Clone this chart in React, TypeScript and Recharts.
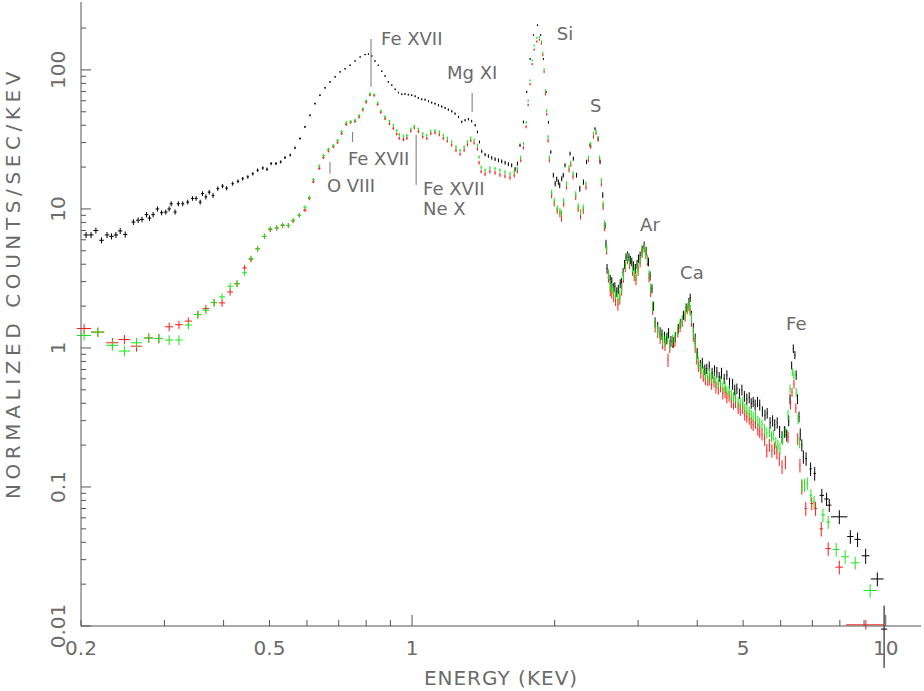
import { ScatterChart, Scatter, XAxis, YAxis, ErrorBar, ReferenceLine, ReferenceDot } from 'recharts';

// [energy keV, normalized counts/s/keV, energy half-width, counts error]
type Row = [number, number, number, number];

const blackSpectrum: Row[] = [
  [0.205, 6.5, 0.0025, 0.33], [0.21, 6.5, 0.0025, 0.33], [0.215, 7.0, 0.0025, 0.35], [0.221, 5.95, 0.0025, 0.3],
  [0.227, 6.5, 0.0025, 0.33], [0.232, 6.35, 0.0025, 0.32], [0.237, 6.5, 0.0025, 0.33], [0.242, 6.95, 0.0025, 0.35],
  [0.248, 6.55, 0.0025, 0.33], [0.258, 8.05, 0.0025, 0.38], [0.264, 8.3, 0.0025, 0.38], [0.269, 8.4, 0.0025, 0.38],
  [0.275, 9.1, 0.0025, 0.4], [0.279, 8.6, 0.0025, 0.4], [0.284, 9.1, 0.0025, 0.4], [0.29, 10.0, 0.0025, 0.42],
  [0.296, 9.4, 0.0025, 0.4], [0.302, 9.5, 0.0025, 0.4], [0.307, 10.0, 0.0025, 0.42], [0.31, 10.9, 0.0025, 0.45],
  [0.316, 9.5, 0.0025, 0.4], [0.321, 10.9, 0.0025, 0.45], [0.328, 10.9, 0.0025, 0.45], [0.336, 11.2, 0.0025, 0.45],
  [0.344, 11.9, 0.0025, 0.45], [0.35, 11.9, 0.0025, 0.45], [0.357, 11.2, 0.0025, 0.45], [0.361, 12.9, 0.0025, 0.5],
  [0.367, 12.2, 0.0025, 0.5], [0.373, 13.2, 0.0025, 0.5], [0.38, 12.5, 0.0025, 0.5], [0.389, 14.0, 0.0025, 0.5],
  [0.398, 14.6, 0.0025, 0.5], [0.406, 14.1, 0.0025, 0.5], [0.418, 15.2, 0.0025, 0.5], [0.429, 15.8, 0.0025, 0.5],
  [0.439, 16.5, 0.0025, 0.5], [0.45, 17.0, 0.0025, 0.5], [0.461, 17.9, 0.0025, 0.5], [0.472, 19.0, 0.0025, 0.55],
  [0.484, 19.7, 0.0025, 0.55], [0.494, 19.3, 0.0025, 0.55], [0.504, 21.2, 0.0025, 0.55], [0.516, 21.2, 0.0025, 0.55],
  [0.528, 21.8, 0.0025, 0.55], [0.539, 23.4, 0.0025, 0.55], [0.553, 24.4, 0.0025, 0.55], [0.566, 27.5, 0.0025, 0.6],
  [0.58, 32.1, 0.0025, 0.6], [0.594, 38.9, 0.0025, 0.7], [0.609, 47.2, 0.0025, 0.8], [0.624, 57.2, 0.0025, 0.9],
  [0.639, 65.8, 0.0025, 1.0], [0.655, 74.3, 0.0025, 1.0], [0.671, 82, 0.0025, 1.1], [0.688, 89.1, 0.0025, 1.2],
  [0.705, 96.8, 0.0025, 1.2], [0.722, 102, 0.0025, 1.3], [0.74, 108, 0.0025, 1.3], [0.758, 116, 0.0025, 1.4],
  [0.777, 124, 0.0025, 1.4], [0.796, 129, 0.0025, 1.5], [0.809, 130, 0.0025, 1.5], [0.822, 126, 0.0025, 1.5],
  [0.835, 116, 0.0025, 1.4], [0.849, 108, 0.0025, 1.3], [0.863, 97.8, 0.0025, 1.2], [0.877, 90.5, 0.0025, 1.2],
  [0.891, 82, 0.0025, 1.1], [0.906, 77.6, 0.0025, 1.0], [0.921, 72.6, 0.0025, 1.0], [0.936, 68.7, 0.0025, 1.0],
  [0.951, 66.8, 0.0025, 1.0], [0.966, 67.2, 0.0025, 1.0], [0.982, 66.4, 0.0025, 1.0], [0.998, 65.8, 0.003, 1.0],
  [1.015, 64.7, 0.003, 1.0], [1.031, 62.9, 0.003, 1.0], [1.048, 61.5, 0.003, 1.0], [1.065, 61.1, 0.003, 1.0],
  [1.083, 59.5, 0.003, 1.0], [1.1, 58.2, 0.003, 1.0], [1.118, 57.2, 0.003, 1.0], [1.137, 55.7, 0.003, 1.0],
  [1.155, 54.5, 0.003, 1.0], [1.174, 53.3, 0.003, 1.0], [1.193, 51.8, 0.003, 1.0], [1.213, 50.4, 0.003, 1.0],
  [1.232, 48.5, 0.003, 1.0], [1.253, 45.9, 0.003, 0.9], [1.273, 42.3, 0.003, 0.9], [1.294, 43.5, 0.003, 0.9],
  [1.315, 44.2, 0.003, 0.9], [1.336, 42.8, 0.003, 0.9], [1.359, 40.0, 0.003, 0.9], [1.374, 35.8, 0.003, 0.8],
  [1.388, 30.3, 0.003, 0.7], [1.403, 26.0, 0.003, 0.7], [1.426, 24.6, 0.003, 0.7], [1.449, 24.0, 0.003, 0.7],
  [1.473, 23.3, 0.003, 0.7], [1.497, 22.8, 0.003, 0.7], [1.522, 22.4, 0.003, 0.7], [1.546, 22.0, 0.003, 0.7],
  [1.572, 21.5, 0.003, 0.7], [1.597, 21.0, 0.003, 0.7], [1.623, 20.6, 0.003, 0.7], [1.65, 19.3, 0.003, 0.7],
  [1.669, 21.2, 0.003, 0.7], [1.69, 28.7, 0.003, 0.8], [1.718, 42.2, 0.003, 1.0], [1.746, 69.5, 0.003, 1.3],
  [1.775, 120, 0.003, 2], [1.804, 178, 0.003, 2.5], [1.839, 210, 0.003, 3], [1.869, 178, 0.003, 2.5],
  [1.893, 120, 0.003, 2], [1.918, 69.5, 0.003, 1.3], [1.94, 42, 0.003, 1.0], [1.963, 25.7, 0.003, 0.8],
  [1.987, 17.5, 0.003, 0.7], [2.005, 15.2, 0.004, 0.7], [2.02, 16.4, 0.004, 0.7], [2.036, 15.6, 0.004, 0.7],
  [2.05, 14.8, 0.004, 0.7], [2.07, 16.5, 0.004, 0.7], [2.085, 17.5, 0.004, 0.7], [2.103, 20.6, 0.004, 0.7],
  [2.155, 25, 0.004, 0.8], [2.19, 23, 0.004, 0.8], [2.225, 17.5, 0.004, 0.7], [2.26, 14, 0.004, 0.7],
  [2.3, 15.6, 0.004, 0.7], [2.336, 21.8, 0.004, 0.8], [2.375, 28.7, 0.004, 0.9], [2.433, 37.7, 0.004, 1.0],
  [2.474, 32, 0.004, 1.0], [2.494, 21.8, 0.004, 0.8], [2.527, 12.6, 0.004, 0.6], [2.555, 7.6, 0.004, 0.4],
  [2.567, 5.6, 0.006, 0.4], [2.58, 3.72, 0.006, 0.3], [2.6, 3.3, 0.006, 0.25], [2.62, 3.1, 0.006, 0.25],
  [2.64, 2.98, 0.006, 0.25], [2.66, 2.7, 0.006, 0.22], [2.68, 2.75, 0.006, 0.22], [2.705, 2.53, 0.006, 0.2],
  [2.725, 2.65, 0.006, 0.2], [2.75, 2.9, 0.006, 0.22], [2.77, 2.98, 0.006, 0.22], [2.79, 3.5, 0.006, 0.25],
  [2.81, 4.0, 0.006, 0.3], [2.83, 4.5, 0.006, 0.3], [2.85, 4.64, 0.006, 0.3], [2.87, 4.5, 0.006, 0.3],
  [2.89, 4.3, 0.006, 0.3], [2.91, 4.16, 0.006, 0.3], [2.935, 3.9, 0.006, 0.3], [2.96, 3.72, 0.006, 0.3],
  [2.985, 4.0, 0.006, 0.3], [3.005, 4.4, 0.006, 0.3], [3.03, 4.64, 0.006, 0.3], [3.06, 5.1, 0.006, 0.35],
  [3.09, 5.48, 0.006, 0.35], [3.12, 5.0, 0.006, 0.35], [3.155, 4.16, 0.006, 0.3], [3.18, 3.3, 0.006, 0.25],
  [3.21, 2.67, 0.006, 0.2], [3.235, 2.0, 0.006, 0.15], [3.26, 1.54, 0.006, 0.12], [3.3, 1.42, 0.008, 0.12],
  [3.34, 1.3, 0.008, 0.11], [3.37, 1.25, 0.008, 0.11], [3.41, 1.2, 0.008, 0.11], [3.45, 1.17, 0.008, 0.11],
  [3.48, 1.28, 0.008, 0.11], [3.52, 1.12, 0.008, 0.1], [3.56, 1.1, 0.008, 0.1], [3.6, 1.2, 0.008, 0.1],
  [3.65, 1.38, 0.008, 0.11], [3.69, 1.5, 0.008, 0.12], [3.74, 1.72, 0.008, 0.13], [3.79, 1.95, 0.008, 0.14],
  [3.84, 2.14, 0.008, 0.15], [3.865, 2.3, 0.008, 0.16], [3.89, 1.72, 0.008, 0.13], [3.925, 1.4, 0.008, 0.11],
  [3.96, 1.17, 0.008, 0.1], [4.0, 0.92, 0.01, 0.08], [4.06, 0.75, 0.01, 0.07], [4.1, 0.78, 0.01, 0.07],
  [4.15, 0.7, 0.01, 0.06], [4.19, 0.71, 0.01, 0.06], [4.24, 0.74, 0.01, 0.06], [4.3, 0.66, 0.01, 0.06],
  [4.35, 0.69, 0.01, 0.06], [4.4, 0.67, 0.01, 0.06], [4.45, 0.62, 0.01, 0.05], [4.5, 0.66, 0.01, 0.06],
  [4.56, 0.6, 0.01, 0.05], [4.62, 0.64, 0.01, 0.05], [4.68, 0.56, 0.01, 0.05], [4.75, 0.55, 0.01, 0.05],
  [4.8, 0.5, 0.01, 0.045], [4.85, 0.51, 0.01, 0.045], [4.91, 0.47, 0.01, 0.04], [4.97, 0.5, 0.01, 0.045],
  [5.03, 0.45, 0.01, 0.04], [5.09, 0.43, 0.01, 0.04], [5.15, 0.44, 0.01, 0.04], [5.2, 0.4, 0.01, 0.035],
  [5.25, 0.41, 0.01, 0.035], [5.3, 0.39, 0.01, 0.035], [5.36, 0.41, 0.01, 0.035], [5.42, 0.39, 0.01, 0.035],
  [5.49, 0.35, 0.012, 0.03], [5.56, 0.33, 0.012, 0.03], [5.62, 0.34, 0.012, 0.03], [5.7, 0.29, 0.012, 0.028],
  [5.77, 0.3, 0.012, 0.028], [5.83, 0.28, 0.012, 0.027], [5.9, 0.29, 0.012, 0.027], [5.97, 0.25, 0.012, 0.025],
  [6.04, 0.229, 0.012, 0.023], [6.11, 0.25, 0.012, 0.024], [6.18, 0.236, 0.012, 0.023], [6.24, 0.3, 0.012, 0.027],
  [6.28, 0.43, 0.012, 0.035], [6.33, 0.75, 0.012, 0.05], [6.38, 0.99, 0.012, 0.07], [6.43, 0.89, 0.012, 0.06],
  [6.47, 0.64, 0.012, 0.05], [6.51, 0.43, 0.012, 0.035], [6.56, 0.32, 0.012, 0.028], [6.6, 0.24, 0.012, 0.024],
  [6.65, 0.2, 0.015, 0.02], [6.7, 0.165, 0.015, 0.018], [6.79, 0.16, 0.03, 0.018], [6.94, 0.135, 0.04, 0.015],
  [7.08, 0.125, 0.04, 0.014], [7.33, 0.087, 0.08, 0.01], [7.5, 0.082, 0.08, 0.009], [7.6, 0.074, 0.08, 0.008],
  [7.98, 0.061, 0.32, 0.007], [8.42, 0.044, 0.13, 0.005], [8.72, 0.042, 0.13, 0.005], [9.07, 0.032, 0.17, 0.004],
  [9.6, 0.0218, 0.3, 0.0025], [9.92, 0.0095, 0.15, 0.0045],
];

const redSpectrum: Row[] = [
  [0.203, 1.38, 0.007, 0.11], [0.217, 1.3, 0.007, 0.1], [0.233, 1.09, 0.007, 0.09], [0.247, 1.15, 0.007, 0.09],
  [0.262, 1.03, 0.007, 0.09], [0.278, 1.18, 0.006, 0.09], [0.292, 1.17, 0.006, 0.09], [0.307, 1.42, 0.006, 0.1],
  [0.322, 1.47, 0.006, 0.1], [0.337, 1.56, 0.006, 0.1], [0.353, 1.74, 0.006, 0.11], [0.367, 1.92, 0.006, 0.12],
  [0.382, 2.12, 0.006, 0.13], [0.397, 2.11, 0.006, 0.13], [0.413, 2.53, 0.006, 0.15], [0.427, 2.9, 0.006, 0.16],
  [0.443, 3.76, 0.005, 0.2], [0.457, 4.35, 0.005, 0.22], [0.472, 5.17, 0.005, 0.25], [0.488, 6.35, 0.005, 0.28],
  [0.502, 7.1, 0.005, 0.3], [0.518, 7.3, 0.005, 0.3], [0.533, 7.6, 0.005, 0.3], [0.548, 7.6, 0.005, 0.3],
  [0.561, 8.2, 0.005, 0.3], [0.578, 9.0, 0.005, 0.3], [0.594, 9.8, 0.005, 0.3], [0.607, 11.9, 0.004, 0.35],
  [0.619, 15.7, 0.004, 0.4], [0.637, 19.6, 0.004, 0.5], [0.65, 23.5, 0.004, 0.6], [0.666, 26.2, 0.004, 0.7],
  [0.682, 28.0, 0.004, 0.7], [0.696, 30.2, 0.004, 0.8], [0.71, 35.0, 0.004, 0.9], [0.726, 40.5, 0.004, 1.0],
  [0.742, 42.0, 0.004, 1.0], [0.758, 42.6, 0.004, 1.0], [0.773, 45.8, 0.004, 1.1], [0.787, 51.5, 0.004, 1.2],
  [0.8, 58.5, 0.004, 1.3], [0.815, 66.0, 0.004, 1.4], [0.832, 65.5, 0.004, 1.4], [0.846, 56.5, 0.004, 1.3],
  [0.859, 49.5, 0.004, 1.2], [0.877, 44.6, 0.004, 1.1], [0.896, 41.0, 0.004, 1.0], [0.913, 38.0, 0.004, 1.0],
  [0.928, 34.6, 0.004, 0.9], [0.94, 32.3, 0.004, 0.9], [0.959, 31.6, 0.004, 0.9], [0.975, 32.3, 0.004, 0.9],
  [0.994, 36.3, 0.004, 0.9], [1.011, 38.3, 0.004, 1.0], [1.031, 36.0, 0.004, 0.9], [1.053, 33.0, 0.004, 0.9],
  [1.074, 32.2, 0.004, 0.9], [1.095, 34.8, 0.004, 0.9], [1.118, 35.3, 0.004, 0.9], [1.142, 34.2, 0.004, 0.9],
  [1.164, 32.2, 0.004, 0.9], [1.187, 30.8, 0.004, 0.8], [1.212, 28.8, 0.004, 0.8], [1.238, 26.4, 0.004, 0.8],
  [1.263, 24.8, 0.004, 0.7], [1.288, 26.5, 0.004, 0.8], [1.309, 29.0, 0.004, 0.8], [1.33, 31.0, 0.004, 0.8],
  [1.352, 29.8, 0.004, 0.8], [1.374, 27.0, 0.004, 0.8], [1.385, 21.5, 0.004, 0.7], [1.399, 18.6, 0.004, 0.6],
  [1.426, 17.8, 0.004, 0.6], [1.46, 18.6, 0.004, 0.6], [1.497, 18.2, 0.004, 0.6], [1.533, 17.6, 0.004, 0.6],
  [1.571, 17.2, 0.004, 0.6], [1.61, 16.8, 0.004, 0.6], [1.643, 17.4, 0.004, 0.6], [1.668, 18.6, 0.004, 0.6],
  [1.696, 22.3, 0.004, 0.7], [1.718, 27.5, 0.004, 0.8], [1.741, 39, 0.004, 1.0], [1.758, 56, 0.004, 1.2],
  [1.775, 79, 0.004, 1.5], [1.793, 110, 0.004, 2], [1.81, 140, 0.004, 2.5], [1.834, 160, 0.004, 3],
  [1.857, 165, 0.004, 3], [1.876, 155, 0.004, 3], [1.888, 128, 0.004, 2.5], [1.9, 97, 0.004, 2],
  [1.912, 67, 0.004, 1.5], [1.924, 48, 0.004, 1.2], [1.937, 31, 0.004, 1.0], [1.949, 22.4, 0.004, 0.8],
  [1.971, 12.5, 0.004, 0.6], [1.996, 10.9, 0.004, 0.5], [2.025, 9.7, 0.004, 0.5], [2.052, 9.2, 0.004, 0.5],
  [2.068, 8.6, 0.004, 0.5], [2.09, 10.8, 0.004, 0.5], [2.118, 14.4, 0.004, 0.6], [2.145, 19, 0.004, 0.7],
  [2.163, 20.8, 0.004, 0.7], [2.187, 17, 0.004, 0.7], [2.216, 12.2, 0.004, 0.6], [2.242, 10, 0.004, 0.5],
  [2.268, 8.9, 0.004, 0.5], [2.298, 9.7, 0.004, 0.5], [2.329, 14.3, 0.004, 0.6], [2.356, 22.5, 0.004, 0.8],
  [2.384, 28, 0.004, 0.9], [2.415, 33, 0.004, 1.0], [2.445, 35, 0.004, 1.0], [2.469, 31.5, 0.004, 1.0],
  [2.489, 22.5, 0.004, 0.8], [2.51, 15.2, 0.004, 0.7], [2.531, 10.4, 0.004, 0.6], [2.547, 7.4, 0.004, 0.5],
  [2.575, 5.1, 0.005, 0.4], [2.597, 3.25, 0.005, 0.3], [2.62, 2.6, 0.006, 0.25], [2.64, 2.5, 0.006, 0.24],
  [2.665, 2.35, 0.006, 0.22], [2.69, 2.2, 0.006, 0.2], [2.72, 2.05, 0.006, 0.2], [2.745, 2.25, 0.006, 0.2],
  [2.77, 2.6, 0.006, 0.22], [2.795, 3.2, 0.006, 0.25], [2.82, 3.8, 0.006, 0.3], [2.85, 4.3, 0.006, 0.3],
  [2.88, 4.0, 0.006, 0.3], [2.92, 3.6, 0.006, 0.3], [2.945, 3.3, 0.006, 0.28], [2.97, 3.1, 0.006, 0.27],
  [3.0, 3.6, 0.006, 0.3], [3.03, 4.1, 0.006, 0.3], [3.06, 4.8, 0.006, 0.35], [3.09, 5.2, 0.006, 0.35],
  [3.115, 4.7, 0.006, 0.35], [3.14, 4.2, 0.006, 0.3], [3.165, 3.2, 0.006, 0.25], [3.19, 2.55, 0.006, 0.22],
  [3.22, 1.9, 0.006, 0.17], [3.26, 1.42, 0.008, 0.13], [3.3, 1.3, 0.008, 0.12], [3.34, 1.18, 0.008, 0.11],
  [3.38, 1.08, 0.008, 0.1], [3.42, 1.05, 0.008, 0.1], [3.47, 0.82, 0.008, 0.09], [3.5, 1.02, 0.008, 0.1],
  [3.55, 1.1, 0.008, 0.1], [3.59, 1.12, 0.008, 0.1], [3.64, 1.3, 0.008, 0.11], [3.68, 1.42, 0.008, 0.12],
  [3.72, 1.55, 0.008, 0.13], [3.77, 1.68, 0.008, 0.14], [3.81, 1.9, 0.008, 0.15], [3.84, 2.0, 0.008, 0.16],
  [3.865, 1.85, 0.008, 0.15], [3.89, 1.55, 0.008, 0.13], [3.925, 1.22, 0.008, 0.11], [3.96, 1.02, 0.008, 0.1],
  [3.99, 0.84, 0.01, 0.08], [4.02, 0.74, 0.01, 0.07], [4.07, 0.66, 0.01, 0.06], [4.12, 0.63, 0.01, 0.06],
  [4.16, 0.6, 0.01, 0.06], [4.21, 0.58, 0.01, 0.05], [4.25, 0.6, 0.01, 0.06], [4.29, 0.55, 0.01, 0.05],
  [4.34, 0.57, 0.01, 0.05], [4.38, 0.52, 0.01, 0.05], [4.43, 0.51, 0.01, 0.05], [4.48, 0.53, 0.01, 0.05],
  [4.53, 0.47, 0.01, 0.045], [4.58, 0.48, 0.01, 0.045], [4.62, 0.44, 0.01, 0.04], [4.67, 0.45, 0.01, 0.04],
  [4.72, 0.41, 0.01, 0.04], [4.77, 0.4, 0.01, 0.04], [4.82, 0.41, 0.01, 0.04], [4.88, 0.37, 0.01, 0.035],
  [4.93, 0.36, 0.01, 0.035], [4.99, 0.37, 0.01, 0.035], [5.04, 0.33, 0.01, 0.03], [5.09, 0.32, 0.01, 0.03],
  [5.15, 0.31, 0.01, 0.03], [5.2, 0.29, 0.01, 0.028], [5.25, 0.28, 0.01, 0.027], [5.31, 0.29, 0.01, 0.028],
  [5.37, 0.26, 0.01, 0.026], [5.42, 0.25, 0.01, 0.025], [5.48, 0.24, 0.012, 0.024], [5.55, 0.22, 0.012, 0.022],
  [5.61, 0.183, 0.012, 0.02], [5.68, 0.2, 0.012, 0.021], [5.75, 0.183, 0.012, 0.02], [5.82, 0.19, 0.012, 0.02],
  [5.89, 0.178, 0.012, 0.02], [5.96, 0.16, 0.012, 0.018], [6.04, 0.14, 0.012, 0.016], [6.14, 0.151, 0.012, 0.017],
  [6.22, 0.229, 0.012, 0.022], [6.29, 0.39, 0.012, 0.03], [6.34, 0.48, 0.012, 0.035], [6.4, 0.55, 0.012, 0.04],
  [6.46, 0.37, 0.012, 0.03], [6.52, 0.222, 0.012, 0.022], [6.59, 0.143, 0.015, 0.016], [6.65, 0.1, 0.015, 0.012],
  [6.78, 0.07, 0.04, 0.008], [6.98, 0.076, 0.05, 0.008], [7.11, 0.07, 0.05, 0.008], [7.31, 0.05, 0.06, 0.006],
  [7.56, 0.036, 0.1, 0.004], [7.98, 0.0265, 0.15, 0.003], [9.08, 0.0102, 0.83, 0.0008],
];

const greenSpectrum: Row[] = [
  [0.203, 1.23, 0.007, 0.1], [0.217, 1.3, 0.007, 0.1], [0.233, 1.045, 0.007, 0.09], [0.247, 0.95, 0.007, 0.08],
  [0.262, 1.09, 0.007, 0.09], [0.278, 1.18, 0.006, 0.09], [0.292, 1.17, 0.006, 0.09], [0.307, 1.14, 0.006, 0.09],
  [0.322, 1.14, 0.006, 0.09], [0.337, 1.46, 0.006, 0.1], [0.353, 1.74, 0.006, 0.11], [0.367, 1.87, 0.006, 0.12],
  [0.382, 2.12, 0.006, 0.13], [0.397, 2.33, 0.006, 0.14], [0.413, 2.78, 0.006, 0.16], [0.427, 2.9, 0.006, 0.16],
  [0.443, 3.48, 0.005, 0.19], [0.457, 4.39, 0.005, 0.22], [0.472, 5.17, 0.005, 0.25], [0.488, 6.35, 0.005, 0.28],
  [0.502, 7.2, 0.005, 0.3], [0.518, 7.3, 0.005, 0.3], [0.533, 7.7, 0.005, 0.3], [0.548, 7.6, 0.005, 0.3],
  [0.561, 8.3, 0.005, 0.3], [0.578, 9.0, 0.005, 0.3], [0.594, 10.3, 0.005, 0.3], [0.607, 12.1, 0.004, 0.35],
  [0.619, 16.3, 0.004, 0.4], [0.637, 20.4, 0.004, 0.5], [0.65, 24.2, 0.004, 0.6], [0.666, 26.9, 0.004, 0.7],
  [0.682, 28.7, 0.004, 0.7], [0.696, 31.0, 0.004, 0.8], [0.71, 36.0, 0.004, 0.9], [0.726, 41.7, 0.004, 1.0],
  [0.742, 42.6, 0.004, 1.0], [0.758, 43.6, 0.004, 1.0], [0.773, 47.0, 0.004, 1.1], [0.787, 52.6, 0.004, 1.2],
  [0.8, 60.0, 0.004, 1.3], [0.815, 67.4, 0.004, 1.4], [0.832, 66.3, 0.004, 1.4], [0.846, 58.0, 0.004, 1.3],
  [0.859, 50.7, 0.004, 1.2], [0.877, 46.0, 0.004, 1.1], [0.896, 42.7, 0.004, 1.0], [0.913, 40.0, 0.004, 1.0],
  [0.928, 36.7, 0.004, 0.9], [0.94, 34.3, 0.004, 0.9], [0.959, 33.4, 0.004, 0.9], [0.975, 33.8, 0.004, 0.9],
  [0.994, 37.7, 0.004, 0.9], [1.011, 39.4, 0.004, 1.0], [1.031, 37.7, 0.004, 0.9], [1.053, 34.8, 0.004, 0.9],
  [1.074, 33.9, 0.004, 0.9], [1.095, 36.3, 0.004, 0.9], [1.118, 36.7, 0.004, 0.9], [1.142, 35.8, 0.004, 0.9],
  [1.164, 33.9, 0.004, 0.9], [1.187, 32.4, 0.004, 0.8], [1.212, 30.4, 0.004, 0.8], [1.238, 27.9, 0.004, 0.8],
  [1.263, 26.4, 0.004, 0.7], [1.288, 27.9, 0.004, 0.8], [1.309, 30.4, 0.004, 0.8], [1.33, 32.4, 0.004, 0.8],
  [1.352, 31.3, 0.004, 0.8], [1.374, 28.7, 0.004, 0.8], [1.385, 23.6, 0.004, 0.7], [1.399, 20.0, 0.004, 0.6],
  [1.426, 19.0, 0.004, 0.6], [1.46, 19.7, 0.004, 0.6], [1.497, 19.5, 0.004, 0.6], [1.533, 19.0, 0.004, 0.6],
  [1.571, 18.4, 0.004, 0.6], [1.61, 17.9, 0.004, 0.6], [1.643, 18.4, 0.004, 0.6], [1.668, 19.5, 0.004, 0.6],
  [1.696, 23.5, 0.004, 0.7], [1.718, 29.5, 0.004, 0.8], [1.741, 42, 0.004, 1.0], [1.758, 60, 0.004, 1.2],
  [1.775, 84, 0.004, 1.5], [1.793, 117, 0.004, 2], [1.81, 150, 0.004, 2.5], [1.834, 170, 0.004, 3],
  [1.857, 172, 0.004, 3], [1.876, 160, 0.004, 3], [1.888, 133, 0.004, 2.5], [1.9, 101, 0.004, 2],
  [1.912, 71, 0.004, 1.5], [1.924, 51, 0.004, 1.2], [1.937, 33, 0.004, 1.0], [1.949, 23.5, 0.004, 0.8],
  [1.971, 13.2, 0.004, 0.6], [1.996, 11.5, 0.004, 0.5], [2.025, 10.2, 0.004, 0.5], [2.052, 9.7, 0.004, 0.5],
  [2.068, 9.3, 0.004, 0.5], [2.09, 11.5, 0.004, 0.5], [2.118, 15.2, 0.004, 0.6], [2.145, 20, 0.004, 0.7],
  [2.163, 21.6, 0.004, 0.7], [2.187, 18, 0.004, 0.7], [2.216, 12.8, 0.004, 0.6], [2.242, 10.5, 0.004, 0.5],
  [2.268, 9.5, 0.004, 0.5], [2.298, 10.3, 0.004, 0.5], [2.329, 15.2, 0.004, 0.6], [2.356, 23.5, 0.004, 0.8],
  [2.384, 29.5, 0.004, 0.9], [2.415, 35, 0.004, 1.0], [2.445, 36.5, 0.004, 1.0], [2.469, 32.5, 0.004, 1.0],
  [2.489, 23.5, 0.004, 0.8], [2.51, 16, 0.004, 0.7], [2.531, 10.8, 0.004, 0.6], [2.547, 7.8, 0.004, 0.5],
  [2.575, 5.3, 0.005, 0.4], [2.597, 3.4, 0.005, 0.3], [2.62, 2.85, 0.006, 0.25], [2.64, 2.7, 0.006, 0.24],
  [2.665, 2.55, 0.006, 0.22], [2.69, 2.45, 0.006, 0.2], [2.72, 2.25, 0.006, 0.2], [2.745, 2.4, 0.006, 0.2],
  [2.77, 2.7, 0.006, 0.22], [2.795, 3.3, 0.006, 0.25], [2.82, 3.9, 0.006, 0.3], [2.85, 4.5, 0.006, 0.3],
  [2.88, 4.2, 0.006, 0.3], [2.92, 3.8, 0.006, 0.3], [2.945, 3.5, 0.006, 0.28], [2.97, 3.3, 0.006, 0.27],
  [3.0, 3.8, 0.006, 0.3], [3.03, 4.3, 0.006, 0.3], [3.06, 4.9, 0.006, 0.35], [3.09, 5.3, 0.006, 0.35],
  [3.115, 4.9, 0.006, 0.35], [3.14, 4.4, 0.006, 0.3], [3.165, 3.4, 0.006, 0.25], [3.19, 2.7, 0.006, 0.22],
  [3.22, 2.0, 0.006, 0.17], [3.26, 1.5, 0.008, 0.13], [3.3, 1.35, 0.008, 0.12], [3.34, 1.25, 0.008, 0.11],
  [3.38, 1.15, 0.008, 0.1], [3.42, 1.12, 0.008, 0.1], [3.46, 1.2, 0.008, 0.1], [3.5, 1.06, 0.008, 0.1],
  [3.55, 1.15, 0.008, 0.1], [3.59, 1.2, 0.008, 0.1], [3.64, 1.35, 0.008, 0.11], [3.68, 1.5, 0.008, 0.12],
  [3.72, 1.6, 0.008, 0.13], [3.77, 1.75, 0.008, 0.14], [3.81, 1.95, 0.008, 0.15], [3.84, 2.08, 0.008, 0.16],
  [3.865, 1.9, 0.008, 0.15], [3.89, 1.65, 0.008, 0.13], [3.925, 1.3, 0.008, 0.11], [3.96, 1.1, 0.008, 0.1],
  [3.99, 0.9, 0.01, 0.08], [4.02, 0.8, 0.01, 0.07], [4.07, 0.72, 0.01, 0.06], [4.12, 0.68, 0.01, 0.06],
  [4.16, 0.66, 0.01, 0.06], [4.21, 0.62, 0.01, 0.05], [4.25, 0.65, 0.01, 0.06], [4.29, 0.6, 0.01, 0.05],
  [4.34, 0.62, 0.01, 0.05], [4.38, 0.57, 0.01, 0.05], [4.43, 0.56, 0.01, 0.05], [4.48, 0.58, 0.01, 0.05],
  [4.53, 0.52, 0.01, 0.045], [4.58, 0.53, 0.01, 0.045], [4.62, 0.49, 0.01, 0.04], [4.67, 0.5, 0.01, 0.04],
  [4.72, 0.46, 0.01, 0.04], [4.77, 0.44, 0.01, 0.04], [4.82, 0.45, 0.01, 0.04], [4.88, 0.41, 0.01, 0.035],
  [4.93, 0.4, 0.01, 0.035], [4.99, 0.41, 0.01, 0.035], [5.04, 0.37, 0.01, 0.03], [5.09, 0.36, 0.01, 0.03],
  [5.15, 0.35, 0.01, 0.03], [5.2, 0.33, 0.01, 0.028], [5.25, 0.32, 0.01, 0.027], [5.31, 0.33, 0.01, 0.028],
  [5.37, 0.3, 0.01, 0.026], [5.42, 0.29, 0.01, 0.025], [5.48, 0.28, 0.012, 0.024], [5.55, 0.26, 0.012, 0.022],
  [5.61, 0.245, 0.012, 0.022], [5.68, 0.25, 0.012, 0.022], [5.74, 0.23, 0.012, 0.021], [5.79, 0.236, 0.012, 0.021],
  [5.86, 0.21, 0.012, 0.02], [5.92, 0.2, 0.012, 0.02], [5.98, 0.19, 0.012, 0.019], [6.06, 0.22, 0.012, 0.02],
  [6.14, 0.25, 0.012, 0.022], [6.22, 0.33, 0.012, 0.027], [6.28, 0.51, 0.012, 0.035], [6.35, 0.67, 0.012, 0.045],
  [6.4, 0.64, 0.012, 0.045], [6.47, 0.48, 0.012, 0.035], [6.53, 0.31, 0.012, 0.027], [6.58, 0.21, 0.012, 0.02],
  [6.65, 0.103, 0.015, 0.011], [6.74, 0.103, 0.02, 0.011], [6.83, 0.106, 0.03, 0.011], [6.95, 0.087, 0.04, 0.009],
  [7.06, 0.078, 0.04, 0.008], [7.37, 0.063, 0.07, 0.007], [7.56, 0.056, 0.07, 0.006], [7.86, 0.0355, 0.12, 0.004],
  [8.21, 0.0315, 0.15, 0.0035], [8.62, 0.0285, 0.18, 0.003], [9.27, 0.018, 0.3, 0.002],
];

const xTicks = [0.2, 0.3, 0.4, 0.5, 0.6, 0.7, 0.8, 0.9, 1, 2, 3, 4, 5, 6, 7, 8, 9, 10];
const xLabelValues = [0.2, 0.5, 1, 5, 10];
const xLabelTexts = ['0.2', '0.5', '1', '5', '10'];
const xMajor = [1, 10];

const yTicks = [
  0.01, 0.02, 0.03, 0.04, 0.05, 0.06, 0.07, 0.08, 0.09,
  0.1, 0.2, 0.3, 0.4, 0.5, 0.6, 0.7, 0.8, 0.9,
  1, 2, 3, 4, 5, 6, 7, 8, 9,
  10, 20, 30, 40, 50, 60, 70, 80, 90,
  100, 200,
];
const yLabelValues = [0.01, 0.1, 1, 10, 100];
const yLabelTexts = ['0.01', '0.1', '1', '10', '100'];

// line identification markers: energy, top and bottom of the marker bar
const lineMarkers = [
  { e: 0.819, top: 167, bottom: 75.5 },
  { e: 1.339, top: 68.3, bottom: 49.9 },
  { e: 0.749, top: 35.8, bottom: 30.3 },
  { e: 0.671, top: 21.8, bottom: 17.9 },
  { e: 1.02, top: 34.1, bottom: 14.9 },
];

const lineLabels = [
  { text: 'Fe XVII', e: 0.86, v: 151 },
  { text: 'Mg XI', e: 1.185, v: 86 },
  { text: 'Si', e: 2.02, v: 164 },
  { text: 'S', e: 2.376, v: 50 },
  { text: 'Fe XVII', e: 0.732, v: 20.7 },
  { text: 'O VIII', e: 0.661, v: 13.3 },
  { text: 'Fe XVII', e: 1.055, v: 12.6 },
  { text: 'Ne X', e: 1.055, v: 9.06 },
  { text: 'Ar', e: 3.03, v: 6.95 },
  { text: 'Ca', e: 3.68, v: 3.14 },
  { text: 'Fe', e: 6.16, v: 1.35 },
];

const FONT = '"DejaVu Sans", sans-serif';
const AXIS = '#555';
const TEXT = '#6b6b6b';

const toPoints = (rows: Row[]) => rows.map(([e, v, de, dv]) => ({ e, v, de, dv }));

const NoDot = () => <g />;

const BottomTick = (props: any) => {
  const { x, y, payload } = props;
  const len = xMajor.includes(payload.value) ? 11 : 6;
  const i = xLabelValues.indexOf(payload.value);
  return (
    <g>
      <line x1={x} x2={x} y1={y} y2={y - len} stroke={AXIS} />
      {i >= 0 && (
        <text x={x} y={y + 29} textAnchor="middle" fontFamily={FONT} fontSize={20} fill={TEXT}>
          {xLabelTexts[i]}
        </text>
      )}
    </g>
  );
};

const TopTick = (props: any) => {
  const { x, y, payload } = props;
  const len = xMajor.includes(payload.value) ? 11 : 6;
  return <line x1={x} x2={x} y1={y} y2={y + len} stroke={AXIS} />;
};

const LeftTick = (props: any) => {
  const { x, y, payload } = props;
  const i = yLabelValues.indexOf(payload.value);
  const len = i >= 0 ? 10 : 5;
  return (
    <g>
      <line x1={x} x2={x + len} y1={y} y2={y} stroke={AXIS} />
      {i >= 0 && (
        <text x={x - 16} y={y} textAnchor="middle" transform={`rotate(-90 ${x - 16} ${y})`}
          fontFamily={FONT} fontSize={20} fill={TEXT}>
          {yLabelTexts[i]}
        </text>
      )}
    </g>
  );
};

const RightTick = (props: any) => {
  const { x, y, payload } = props;
  const len = yLabelValues.includes(payload.value) ? 10 : 5;
  return <line x1={x} x2={x - len} y1={y} y2={y} stroke={AXIS} />;
};

const series = [
  { name: 'black', rows: blackSpectrum, color: '#000000' },
  { name: 'red', rows: redSpectrum, color: '#ff1a1a' },
  { name: 'green', rows: greenSpectrum, color: '#19e619' },
];

export default function App() {
  return (
    <div style={{ position: 'absolute', left: 0, top: 0, width: 924, height: 691, background: '#fff' }}>
      <ScatterChart width={924} height={691} margin={{ top: 2, right: 3, bottom: 0, left: 0 }}>
        <XAxis xAxisId={0} dataKey="e" type="number" scale="log" domain={[0.2, 11.87]} allowDataOverflow
          ticks={xTicks} interval={0} tickSize={0} tickMargin={0} height={65}
          axisLine={{ stroke: AXIS }} tickLine={false} tick={BottomTick} />
        <XAxis xAxisId="top" orientation="top" dataKey="e" type="number" scale="log" domain={[0.2, 11.87]}
          allowDataOverflow ticks={xTicks} interval={0} tickSize={0} tickMargin={0} height={0}
          axisLine={{ stroke: AXIS }} tickLine={false} tick={TopTick} />
        <YAxis yAxisId={0} dataKey="v" type="number" scale="log" domain={[0.01, 308]} allowDataOverflow
          ticks={yTicks} interval={0} tickSize={0} tickMargin={0} width={81}
          axisLine={{ stroke: AXIS }} tickLine={false} tick={LeftTick} />
        <YAxis yAxisId="right" orientation="right" dataKey="v" type="number" scale="log" domain={[0.01, 308]}
          allowDataOverflow ticks={yTicks} interval={0} tickSize={0} tickMargin={0} width={0}
          axisLine={{ stroke: AXIS }} tickLine={false} tick={RightTick} />

        {series.map((s) => (
          <Scatter key={s.name} name={s.name} data={toPoints(s.rows)} shape={NoDot} isAnimationActive={false}>
            <ErrorBar dataKey="dv" direction="y" width={0} stroke={s.color} strokeWidth={1} isAnimationActive={false} />
            <ErrorBar dataKey="de" direction="x" width={0} stroke={s.color} strokeWidth={1} isAnimationActive={false} />
          </Scatter>
        ))}

        {lineMarkers.map((m, i) => (
          <ReferenceLine key={`m${i}`} segment={[{ x: m.e, y: m.top }, { x: m.e, y: m.bottom }]}
            stroke="#777" strokeWidth={1} ifOverflow="visible" />
        ))}
        {lineLabels.map((l, i) => (
          <ReferenceDot key={`l${i}`} x={l.e} y={l.v} r={0} ifOverflow="visible"
            shape={(p: any) => (
              <text x={p.cx} y={p.cy} fontFamily={FONT} fontSize={18} fill={TEXT}>
                {l.text}
              </text>
            )} />
        ))}
      </ScatterChart>
      <svg width={924} height={691} style={{ position: 'absolute', left: 0, top: 0, pointerEvents: 'none' }}>
        <text x={501} y={685} textAnchor="middle" fontFamily={FONT} fontSize={20} fill={TEXT} letterSpacing={1}>
          ENERGY (KEV)
        </text>
        <text x={20} y={283} textAnchor="middle" transform="rotate(-90 20 283)" fontFamily={FONT}
          fontSize={20} fill={TEXT} letterSpacing={4.6}>
          NORMALIZED COUNTS/SEC/KEV
        </text>
      </svg>
    </div>
  );
}
